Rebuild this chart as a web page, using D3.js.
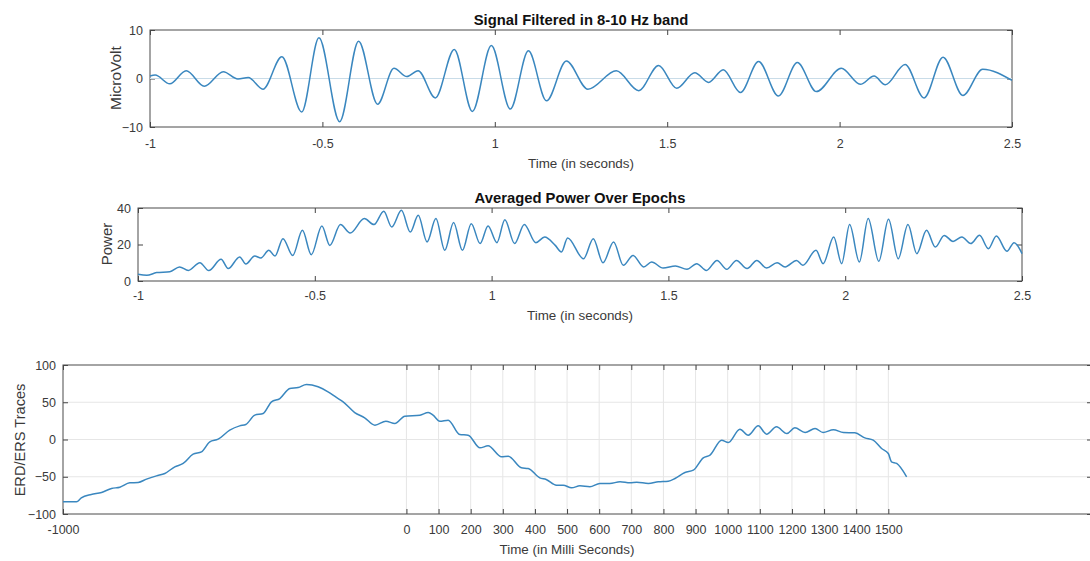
<!DOCTYPE html>
<html lang="en">
<head>
<meta charset="UTF-8">
<script src="https://d3js.org/d3.v7.min.js"></script>
<style>
    body { margin: 0; background: #fff; }
    svg text { font-family: "Liberation Sans", Arial, Helvetica, sans-serif; fill: #3a3a3a; }
    .tick text { font-size: 12.5px; }
    .ttl { font-size: 14.8px; font-weight: bold; fill: #111; }
    .lbl { font-size: 13.4px; }
    .frame { fill: none; stroke: #4a4a4a; stroke-width: 1; }
    .trace { fill: none; stroke: #3a87bf; stroke-width: 1.5; }
    .grid line { stroke: #e6e6e6; stroke-width: 1; }
</style>
</head>
<body>
<svg id="chart" width="1090" height="561"></svg>
<script>
// panel 1: filtered signal, x = sample index (0..1000), y = microvolt (extrema)
const sigX = [0, 6, 23, 42, 63, 85, 102, 114, 131, 153, 176, 196, 220, 242, 264, 283, 298, 311, 331, 353,
    374, 396, 418, 439, 460, 483, 508, 541, 567, 590, 611, 632, 648, 665, 685, 706, 729, 751, 773, 802,
    824, 840, 853, 876, 898, 920, 943, 966, 1000];
const sigY = [0.5, 0.7, -1.1, 1.6, -1.6, 1.4, -0.1, 0.2, -2.2, 4.5, -6.9, 8.4, -8.9, 7.7, -5.3, 2.1, 0.4, 1.6, -4.0, 6.0,
    -6.8, 6.8, -6.3, 5.7, -4.6, 3.6, -2.2, 1.6, -2.5, 2.7, -2.0, 1.2, -0.8, 1.8, -2.9, 3.5, -3.6, 3.3, -2.7, 2.1,
    -1.2, 0.5, -1.3, 2.9, -4.0, 4.4, -3.5, 1.9, -0.4];
const sigTicks = [0, 200, 400, 600, 800, 1000];
const secLabels = ["-1", "-0.5", "1", "1.5", "2", "2.5"];

// panel 2: averaged power
const powX = [0, 10, 21, 36, 47, 57, 70, 80, 94, 102, 115, 122, 132, 139, 148, 155, 164, 175, 186, 196,
    208, 217, 229, 240, 256, 267, 278, 287, 298, 308, 317, 327, 337, 347, 357, 367, 377, 387, 396, 406,
    415, 426, 437, 450, 460, 472, 479, 486, 504, 515, 526, 538, 549, 560, 572, 581, 594, 608, 621, 632,
    643, 655, 666, 677, 689, 700, 711, 723, 732, 745, 752, 767, 775, 787, 796, 805, 816, 826, 838, 849,
    860, 871, 881, 892, 902, 912, 922, 932, 942, 952, 962, 971, 983, 991, 1000];
const powY = [3.7, 3.1, 4.6, 5.1, 7.7, 5.8, 10, 5.7, 11.9, 6.8, 13.2, 9.3, 13.7, 12.6, 16.8, 13.7, 23.2, 14, 27.8, 14.4,
    30.1, 19.5, 30.9, 26.3, 34.2, 30.9, 38.2, 29.6, 38.7, 26.8, 36, 21.4, 34.2, 16.8, 32, 16.8, 31.4, 20.5, 30.1, 21,
    33.6, 20.5, 31, 21, 24.1, 19.5, 15.9, 23.6, 12.2, 23.2, 10, 21.4, 8.6, 14, 7.7, 10.4, 7.1, 8.2, 6.4, 9.5,
    5.8, 11.3, 6.4, 11.3, 6.8, 11.3, 7.1, 10, 7.7, 11.3, 8.6, 16.8, 9.5, 24.1, 9.5, 30.9, 10.4, 34.2, 10.8, 33.8,
    12.2, 30.9, 15, 27.8, 18.6, 25, 21.7, 24.1, 20.5, 25, 17.7, 24.7, 16.3, 21, 15];

// panel 3: ERD/ERS traces, x in ms
const erdX = [-1069, -1027, -1012, -981, -949, -918, -892, -861, -835, -809, -778, -752, -721, -695, -664, -638, -612, -586, -550, -519,
    -500, -472, -446, -420, -394, -363, -337, -311, -275, -244, -218, -197, -161, -130, -98, -64, -36, -5, 42, 68,
    83, 104, 130, 166, 192, 229, 254, 296, 317, 358, 379, 415, 435, 467, 488, 514, 540, 571, 602, 633,
    665, 696, 717, 753, 784, 815, 836, 867, 893, 924, 945, 981, 1002, 1038, 1064, 1095, 1121, 1152, 1184, 1209,
    1241, 1272, 1297, 1329, 1360, 1396, 1427, 1453, 1479, 1500, 1510, 1526, 1557];
const erdY = [-83.7, -83.7, -78.3, -73.8, -71.1, -65.8, -64, -58.2, -57.7, -53.2, -48.8, -45.6, -36.7, -32.2, -19.7, -16.6, -3.1, 0.4, 12.5, 18.3,
    20.1, 32.7, 34.9, 50.6, 55, 68.5, 69.8, 73.8, 70.7, 64, 56.4, 50.6, 36.2, 29.1, 19.2, 24.6, 21.5, 31.3, 32.7, 36.2,
    32.7, 24.6, 26, 6.7, 5.8, -11.2, -8.5, -23.3, -22.4, -38, -38.9, -51.5, -53.7, -61.3, -61.3, -64.9, -62.2, -63.5, -59, -59,
    -56.8, -58.2, -57.3, -59, -56.8, -55.9, -52.3, -44.3, -41.2, -24.6, -21, -0.9, -4, 13.9, 5.8, 18.3, 7.2, 17, 8, 15.7,
    9.4, 14.8, 9.4, 13, 9.4, 8.9, 2.2, -0.9, -12.1, -18.8, -30, -32.2, -50.1];
const msTicks = [-1069, 0, 100, 200, 300, 400, 500, 600, 700, 800, 900, 1000, 1100, 1200, 1300, 1400, 1500];
const msLabels = ["-1000", "0", "100", "200", "300", "400", "500", "600", "700", "800", "900", "1000", "1100", "1200", "1300", "1400", "1500"];

const svg = d3.select("#chart");

// draws one matlab style axes box, returns the scales
function panel(opt) {
    const x = d3.scaleLinear().domain(opt.xDomain).range([opt.left, opt.right]);
    const y = d3.scaleLinear().domain(opt.yDomain).range([opt.bottom, opt.top]);
    const g = svg.append("g");

    if (opt.grid) {
        const gr = g.append("g").attr("class", "grid");
        gr.selectAll("line.v").data(opt.xTicks.slice(1)).join("line")
            .attr("x1", d => x(d)).attr("x2", d => x(d))
            .attr("y1", opt.top).attr("y2", opt.bottom);
        gr.selectAll("line.h").data(opt.yTicks.slice(1, -1)).join("line")
            .attr("x1", opt.left).attr("x2", opt.right)
            .attr("y1", d => y(d)).attr("y2", d => y(d));
    }

    // bottom axis (labels), top axis (ticks only), both inward
    const xa = d3.axisBottom(x).tickValues(opt.xTicks).tickFormat((d, i) => opt.xLabels[i])
        .tickSizeInner(-5).tickSizeOuter(0).tickPadding(opt.xPad);
    g.append("g").attr("transform", `translate(0,${opt.bottom})`).call(xa)
        .call(a => a.select(".domain").remove())
        .call(a => a.selectAll("line").attr("stroke", "#444"));
    g.append("g").attr("transform", `translate(0,${opt.top})`)
        .call(d3.axisTop(x).tickValues(opt.xTicks).tickFormat("").tickSizeInner(-5).tickSizeOuter(0))
        .call(a => a.select(".domain").remove())
        .call(a => a.selectAll("line").attr("stroke", "#444"));

    const ya = d3.axisLeft(y).tickValues(opt.yTicks).tickFormat(d3.format("d"))
        .tickSizeInner(-5).tickSizeOuter(0).tickPadding(7);
    g.append("g").attr("transform", `translate(${opt.left},0)`).call(ya)
        .call(a => a.select(".domain").remove())
        .call(a => a.selectAll("line").attr("stroke", "#444"));
    g.append("g").attr("transform", `translate(${opt.right},0)`)
        .call(d3.axisRight(y).tickValues(opt.yTicks).tickFormat("").tickSizeInner(-5).tickSizeOuter(0))
        .call(a => a.select(".domain").remove())
        .call(a => a.selectAll("line").attr("stroke", "#444"));

    g.selectAll(".tick text").attr("fill", "#3a3a3a").style("font-family", "Liberation Sans, Arial, sans-serif");

    g.append("rect").attr("class", "frame")
        .attr("x", opt.left).attr("y", opt.top)
        .attr("width", opt.right - opt.left).attr("height", opt.bottom - opt.top);

    if (opt.title) {
        g.append("text").attr("class", "ttl").attr("text-anchor", "middle")
            .attr("x", (opt.left + opt.right) / 2).attr("y", opt.top - 5).text(opt.title);
    }
    g.append("text").attr("class", "lbl").attr("text-anchor", "middle")
        .attr("x", opt.xLabelPos[0]).attr("y", opt.xLabelPos[1]).text(opt.xLabel);
    g.append("text").attr("class", "lbl").attr("text-anchor", "middle")
        .style("font-size", opt.yLabelSize + "px")
        .attr("transform", `translate(${opt.yLabelPos[0]},${opt.yLabelPos[1]}) rotate(-90)`).text(opt.yLabel);

    return { x, y, g };
}

function trace(p, xs, ys) {
    const line = d3.line().x(d => p.x(d[0])).y(d => p.y(d[1])).curve(d3.curveMonotoneX);
    p.g.append("path").datum(xs.map((v, i) => [v, ys[i]]))
        .attr("class", "trace").attr("d", line);
}

// ---- top
const p1 = panel({
    left: 150, right: 1012, top: 30, bottom: 127,
    xDomain: [0, 1000], yDomain: [-10, 10],
    xTicks: sigTicks, xLabels: secLabels, yTicks: [-10, 0, 10], xPad: 12,
    title: "Signal Filtered in 8-10 Hz band",
    xLabel: "Time (in seconds)", xLabelPos: [581, 168],
    yLabel: "MicroVolt", yLabelPos: [121, 78], yLabelSize: 15.5
});
p1.g.append("line")
    .attr("x1", p1.x(0)).attr("x2", p1.x(1000))
    .attr("y1", p1.y(0)).attr("y2", p1.y(0))
    .attr("stroke", "#c9dce8").attr("stroke-width", 1);
trace(p1, sigX, sigY);

// ---- middle
const p2 = panel({
    left: 138, right: 1022, top: 208, bottom: 281,
    xDomain: [0, 1000], yDomain: [0, 40],
    xTicks: sigTicks, xLabels: secLabels, yTicks: [0, 20, 40], xPad: 10,
    title: "Averaged Power Over Epochs",
    xLabel: "Time (in seconds)", xLabelPos: [580, 320],
    yLabel: "Power", yLabelPos: [112, 244], yLabelSize: 15
});
trace(p2, powX, powY);

// ---- bottom
const p3 = panel({
    left: 63, right: 1092, top: 365, bottom: 514,
    xDomain: [-1069, 2134], yDomain: [-100, 100],
    xTicks: msTicks, xLabels: msLabels, yTicks: [-100, -50, 0, 50, 100], xPad: 11,
    grid: true,
    xLabel: "Time (in Milli Seconds)", xLabelPos: [567, 554],
    yLabel: "ERD/ERS Traces", yLabelPos: [25, 440], yLabelSize: 14.6
});
trace(p3, erdX, erdY);
</script>
</body>
</html>
